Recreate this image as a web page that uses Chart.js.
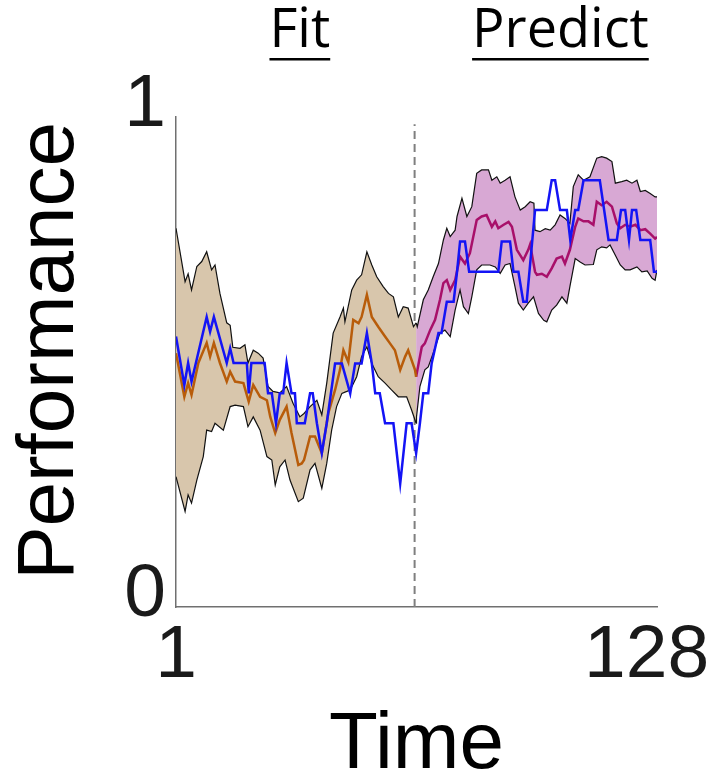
<!DOCTYPE html>
<html>
<head>
<meta charset="utf-8">
<script src="https://cdn.jsdelivr.net/npm/chart.js@4/dist/chart.umd.min.js"></script>
<style>
  body { margin: 0; background: #fff; }
  #chart { display: block; }
</style>
</head>
<body>
<canvas id="chart" width="716" height="781"></canvas>
<script>
// Values: [time, performance]
const fitUpper = [[1,0.773],[3.4,0.664],[4.2,0.68],[5.1,0.647],[6.5,0.695],[7.8,0.705],[9.1,0.725],[10.4,0.688],[11.3,0.698],[12.6,0.64],[14.4,0.58],[15.3,0.575],[16,0.53],[17.9,0.528],[19.2,0.535],[20,0.498],[21.4,0.524],[22.7,0.518],[24,0.508],[25.3,0.45],[26.6,0.44],[28.4,0.437],[30.2,0.45],[31.9,0.416],[33.7,0.388],[34.8,0.395],[36.4,0.409],[38.2,0.422],[39.5,0.392],[40.8,0.457],[42.5,0.559],[44.3,0.592],[45.2,0.61],[45.6,0.582],[47.4,0.647],[48.7,0.667],[50,0.678],[51.4,0.725],[52.7,0.698],[54,0.674],[55.7,0.654],[57.1,0.64],[58.4,0.633],[59.7,0.592],[61,0.613],[62.3,0.61],[63.7,0.572],[64.4,0.58]];
const fitLower = [[1,0.266],[3.4,0.195],[4.2,0.229],[5.1,0.212],[6.5,0.259],[8.2,0.307],[9.1,0.361],[10.4,0.358],[11.3,0.375],[13.5,0.361],[15.3,0.409],[16.6,0.412],[18.8,0.409],[20,0.368],[21.4,0.388],[23.2,0.361],[25,0.307],[26.3,0.3],[27.2,0.249],[28.4,0.286],[29.8,0.3],[31.1,0.259],[33.3,0.215],[34.6,0.222],[36.4,0.28],[37.7,0.293],[39.5,0.242],[40.8,0.293],[42.1,0.361],[43.4,0.409],[44.8,0.436],[46.1,0.44],[47,0.443],[48.7,0.47],[50,0.511],[51.4,0.531],[52.7,0.497],[54.4,0.47],[56.2,0.457],[57.9,0.443],[59.7,0.429],[61.9,0.429],[63.2,0.402],[64.4,0.375]];
const fitMean = [[1,0.518],[3.2,0.429],[4.2,0.457],[5.1,0.433],[6.9,0.498],[9.1,0.539],[10,0.511],[11,0.539],[12.6,0.498],[14.4,0.46],[15.3,0.48],[16.6,0.46],[18.8,0.457],[20.2,0.419],[21.4,0.453],[23.2,0.429],[25,0.422],[25.9,0.388],[27.2,0.355],[28.4,0.382],[30.2,0.409],[31.5,0.355],[33.3,0.29],[34.2,0.293],[34.8,0.3],[36.4,0.348],[37.7,0.348],[39.5,0.314],[41.2,0.395],[43,0.443],[44.3,0.484],[45.2,0.524],[46.5,0.5],[47.8,0.586],[49.2,0.579],[50,0.592],[51.4,0.637],[52.7,0.592],[54.4,0.572],[56.2,0.552],[57.5,0.538],[58.8,0.524],[60.2,0.484],[61.5,0.511],[62.3,0.524],[64.1,0.484],[64.4,0.47]];

const predUpper = [[64.4,0.58],[64.7,0.572],[66.3,0.627],[67.6,0.647],[68.9,0.674],[70.3,0.701],[71.6,0.749],[72.5,0.773],[73.4,0.756],[74.7,0.769],[75.2,0.797],[76.5,0.834],[77.8,0.797],[79.1,0.817],[80.4,0.885],[81.7,0.892],[83.5,0.892],[84.4,0.871],[85.7,0.878],[86.6,0.865],[87.9,0.871],[89.2,0.878],[90.5,0.837],[91.9,0.81],[93.2,0.817],[94.5,0.827],[95.5,0.824],[95.8,0.769],[97.1,0.766],[98.5,0.772],[99.8,0.769],[101.1,0.78],[102.4,0.8],[103.7,0.793],[105,0.783],[105.9,0.858],[107.2,0.882],[108.6,0.871],[110.3,0.878],[112.1,0.916],[113.4,0.919],[114.7,0.916],[116.1,0.909],[117,0.865],[118.7,0.868],[120,0.871],[121.4,0.865],[122.7,0.871],[123.6,0.848],[124.9,0.85],[126.2,0.844],[127.5,0.837],[128,0.837]];
const predLower = [[64.4,0.375],[64.5,0.388],[65.4,0.45],[66.7,0.484],[67.6,0.49],[68.9,0.518],[70.7,0.559],[72,0.565],[73.4,0.552],[74.7,0.606],[76,0.647],[76.9,0.613],[78.2,0.599],[79.1,0.633],[80.4,0.688],[81.7,0.698],[83.9,0.698],[85.3,0.694],[86.6,0.681],[87.9,0.698],[89.2,0.701],[90.5,0.654],[91.4,0.62],[92.7,0.606],[94,0.62],[95.4,0.633],[96.7,0.599],[98.1,0.585],[98.9,0.582],[100.2,0.606],[101.5,0.616],[102.9,0.633],[104.2,0.62],[105,0.654],[106.4,0.711],[107.7,0.704],[109,0.698],[111.2,0.699],[112.1,0.729],[113.4,0.735],[114.7,0.733],[115.6,0.739],[117,0.718],[118.3,0.698],[119.6,0.688],[120.9,0.688],[122.7,0.694],[124,0.684],[125.4,0.686],[126.7,0.671],[127.5,0.667],[128,0.688]];
const predMean = [[64.4,0.47],[65.9,0.531],[66.7,0.538],[68.1,0.565],[69.4,0.586],[70.7,0.627],[71.6,0.661],[72.5,0.667],[73.4,0.647],[74.7,0.667],[76,0.715],[77.3,0.701],[78.6,0.722],[80.4,0.79],[81.7,0.797],[83,0.8],[84.4,0.776],[85.3,0.787],[86.1,0.773],[87.5,0.78],[88.8,0.786],[89.7,0.776],[91,0.729],[92.7,0.708],[94,0.729],[94.5,0.74],[95.8,0.684],[96.3,0.678],[97.6,0.68],[98.9,0.674],[100.2,0.691],[101.5,0.711],[102.9,0.715],[103.7,0.701],[105,0.729],[106.4,0.776],[107.2,0.793],[108.6,0.787],[109.9,0.787],[111.2,0.78],[112.1,0.827],[113.4,0.82],[114.7,0.827],[116.1,0.817],[117.4,0.783],[118.3,0.773],[119.6,0.78],[120.9,0.776],[122.3,0.78],[123.6,0.769],[124.9,0.771],[126.2,0.762],[127.5,0.752],[128,0.755]];

const observed = [[1,0.552],[3.2,0.453],[4.2,0.498],[5.1,0.46],[9.1,0.592],[10,0.562],[11,0.592],[14.4,0.498],[15.3,0.528],[16.2,0.498],[19.7,0.498],[20.2,0.436],[20.9,0.498],[24.4,0.498],[25.3,0.436],[26.3,0.436],[27.4,0.375],[28.4,0.436],[29.3,0.436],[30.2,0.498],[31.5,0.436],[32.4,0.436],[32.9,0.375],[35,0.375],[36.4,0.436],[37.1,0.436],[38.2,0.375],[39.5,0.314],[40.8,0.375],[43,0.497],[44.8,0.497],[47,0.436],[48.3,0.497],[50,0.497],[51.4,0.559],[52.7,0.497],[53.6,0.436],[54.8,0.436],[56.2,0.375],[58.4,0.375],[60.2,0.252],[61.9,0.375],[63.2,0.375],[64.4,0.314],[65.4,0.375],[66.3,0.436],[67.6,0.436],[68.5,0.497],[70.3,0.559],[71.1,0.559],[72.5,0.623],[74.3,0.623],[75.2,0.684],[76,0.746],[77.3,0.746],[78.4,0.684],[86.1,0.684],[87,0.746],[89.2,0.746],[90.1,0.684],[91.4,0.684],[92.7,0.623],[93.6,0.623],[95.8,0.81],[98.9,0.81],[100.2,0.871],[101.1,0.871],[102.4,0.81],[104.2,0.81],[105.1,0.749],[106.4,0.81],[107.2,0.81],[108.6,0.871],[112.9,0.871],[115.2,0.749],[117.4,0.749],[118.5,0.81],[119.6,0.81],[120.6,0.749],[121.4,0.81],[122.5,0.81],[123.6,0.749],[126.2,0.749],[127.2,0.684],[128,0.684]];

const splitAt = 64;          // fit / predict boundary
const divider = [[splitAt,0],[splitAt,0.985]];
const xTicks = [1, 128];
const yTicks = [0, 1];
const sectionLabels = [["Fit", 33.7], ["Predict", 102.5]];

const pts = arr => arr.map(p => ({ x: p[0], y: p[1] }));
const band = (up, lo) => pts(up.concat(lo.slice().reverse()));

function line(data, color, width) {
    return { data: pts(data), borderColor: color, borderWidth: width, pointRadius: 0, fill: false, tension: 0 };
}

// "Fit" / "Predict" headings, underlined
const headings = {
    id: "headings",
    afterDraw(chart) {
        const ctx = chart.ctx;
        const xs = chart.scales.x;
        ctx.save();
        ctx.font = "54px 'Open Sans'";
        ctx.fillStyle = "#000";
        ctx.textAlign = "center";
        ctx.textBaseline = "alphabetic";
        sectionLabels.forEach(([text, at]) => {
            const cx = xs.getPixelForValue(at);
            const w = ctx.measureText(text).width;
            ctx.fillText(text, cx, 47);
            ctx.fillRect(cx - w / 2, 58, w, 2.5);
        });
        ctx.restore();
    }
};

const axisColor = "#707070";
const bigFont = { family: "'Liberation Sans', Arial, sans-serif", size: 80, lineHeight: 0.8 };
const tickFont = { family: "'Liberation Sans', Arial, sans-serif", size: 75 };

new Chart(document.getElementById("chart"), {
    type: "line",
    data: {
        datasets: [
            line(observed, "#1414f5", 2.5),
            line(fitMean, "#b85c0a", 2.5),
            line(predMean, "#a8106a", 2.5),
            line(fitUpper, "#111", 1.2),
            line(fitLower, "#111", 1.2),
            line(predUpper, "#111", 1.2),
            line(predLower, "#111", 1.2),
            { data: band(fitUpper, fitLower), borderWidth: 0, pointRadius: 0, fill: "shape", backgroundColor: "#d8c6ac", tension: 0 },
            { data: band(predUpper, predLower), borderWidth: 0, pointRadius: 0, fill: "shape", backgroundColor: "#d8a8d4", tension: 0 },
            { data: pts(divider), borderColor: "#7f7f7f", borderWidth: 2, borderDash: [8, 5], pointRadius: 0, fill: false }
        ]
    },
    options: {
        responsive: false,
        animation: false,
        devicePixelRatio: 1,
        layout: { padding: { left: 0, top: 117, right: 59, bottom: 0 } },
        plugins: { legend: { display: false }, tooltip: { enabled: false } },
        scales: {
            x: {
                type: "linear",
                min: 1,
                max: 128,
                afterBuildTicks: s => { s.ticks = xTicks.map(v => ({ value: v })); },
                afterFit: s => { s.height = 174; s.paddingRight = 0; s.paddingLeft = 0; },
                grid: { display: false, drawTicks: false },
                border: { display: true, color: axisColor, width: 1.5 },
                ticks: {
                    font: tickFont, color: "#1a1a1a", padding: 4, maxRotation: 0,
                    callback: v => (v === 128 ? "128 " : String(v))
                },
                title: { display: true, text: "Time", font: bigFont, color: "#000", padding: { top: 0, bottom: 3 } }
            },
            y: {
                type: "linear",
                min: 0,
                max: 1,
                afterBuildTicks: s => { s.ticks = yTicks.map(v => ({ value: v })); },
                afterFit: s => { s.width = 176; },
                grid: { display: false, drawTicks: false },
                border: { display: true, color: axisColor, width: 1.5 },
                ticks: { font: tickFont, color: "#1a1a1a", padding: 10, labelOffset: -12 },
                title: { display: true, text: " Performance", font: bigFont, color: "#000", padding: { top: 19, bottom: 0 } }
            }
        }
    },
    plugins: [headings]
});
</script>
</body>
</html>
